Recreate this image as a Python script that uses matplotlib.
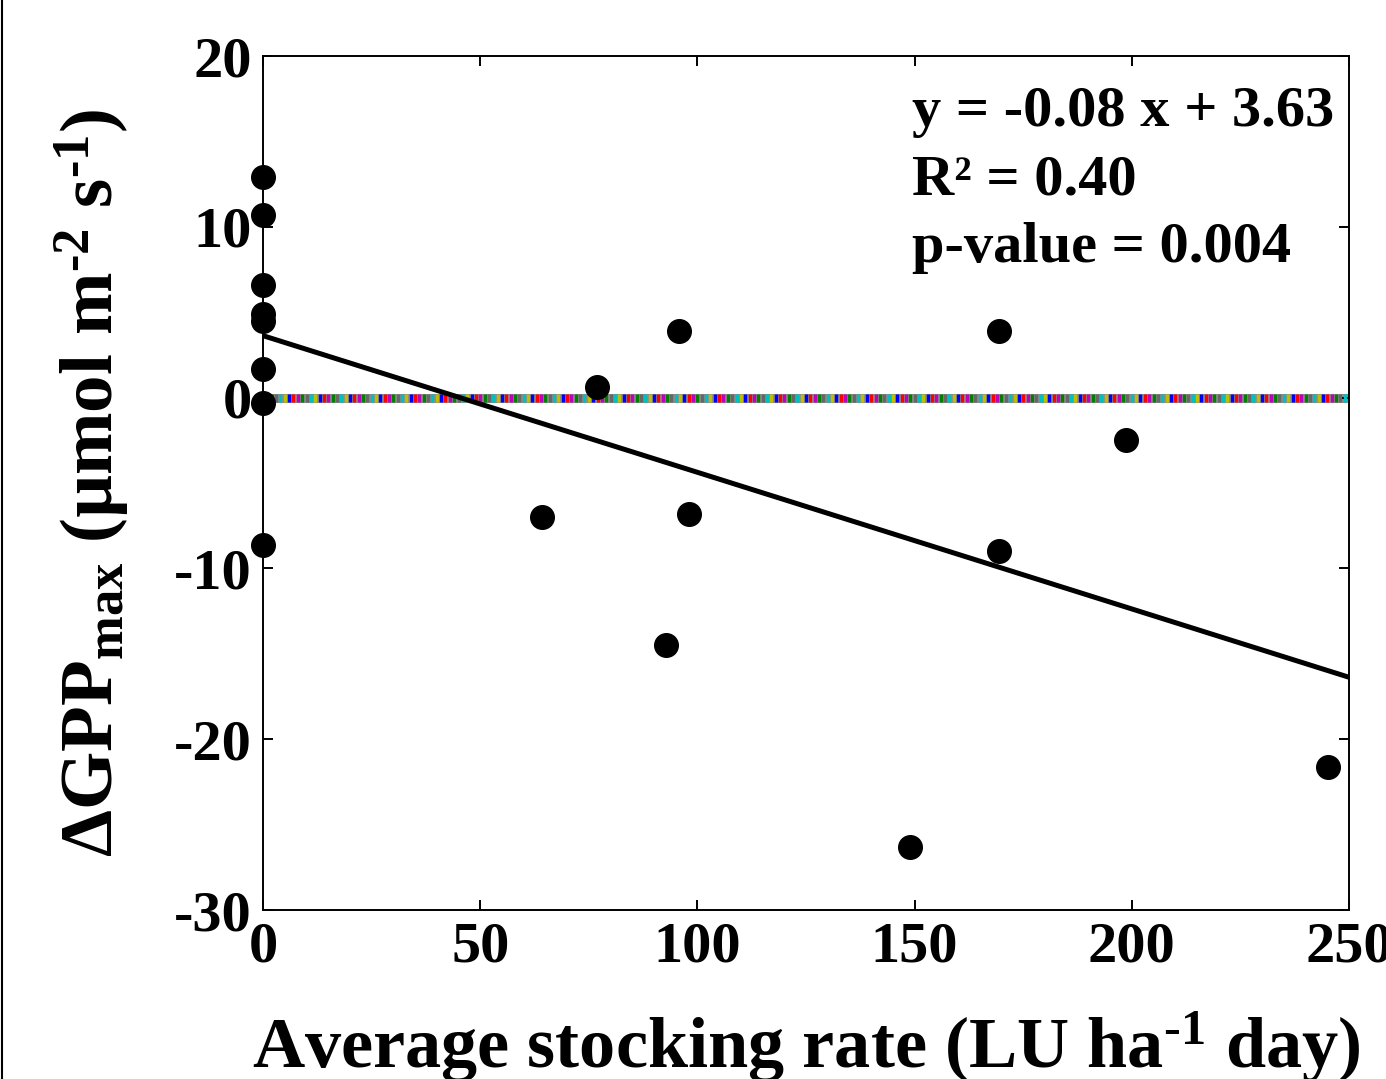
import numpy as np
import matplotlib
matplotlib.use("Agg")
import matplotlib.pyplot as plt
from matplotlib.lines import Line2D
from matplotlib.ticker import FuncFormatter

plt.rcParams['font.family'] = ['Liberation Serif', 'DejaVu Serif']
plt.rcParams['font.weight'] = 'bold'
plt.rcParams['mathtext.fontset'] = 'custom'
plt.rcParams['mathtext.rm'] = 'Liberation Serif:bold'
plt.rcParams['mathtext.it'] = 'Liberation Serif:bold'
plt.rcParams['mathtext.bf'] = 'Liberation Serif:bold'

# stocking rate (LU ha-1 day) vs change in GPPmax
stocking = [0, 0, 0, 0, 0, 0, 0, 0,
            64.2, 76.9, 92.8, 95.8, 98.1, 148.9, 169.4, 169.4, 198.7, 245.2]
dgpp = [12.9, 10.7, 6.6, 4.9, 4.5, 1.7, -0.3, -8.6,
        -7.0, 0.6, -14.5, 3.9, -6.8, -26.3, 3.9, -9.0, -2.5, -21.6]

slope = -0.08
intercept = 3.63
fit_x = [0, 250]
stats_lines = ['y = -0.08 x + 3.63', 'R² = 0.40', 'p-value = 0.004']

xticks = [0, 50, 100, 150, 200, 250]
yticks = [-30, -20, -10, 0, 10, 20]

# colour cycle of the zero reference line (one short dash per unit of x)
zero_x = np.arange(0, 251)
zero_colors = ['r', 'm', 'g', '0.4', 'c', 'y', 'b']

fig = plt.figure(figsize=(13.86, 10.79), dpi=100)
ax = fig.add_axes([0.1898, 0.1566, 0.7835, 0.7914])

ax.axhline(0, color='0.55', lw=6.5, zorder=1)
ax.scatter(zero_x, np.zeros(len(zero_x)), marker='|', s=36, linewidths=2.4,
           c=[zero_colors[i % len(zero_colors)] for i in range(len(zero_x))],
           zorder=2, clip_on=True)

fit_y = [intercept + slope * v for v in fit_x]
ax.plot(fit_x, fit_y, color='k', lw=3.6, zorder=3)
ax.plot(stocking, dgpp, 'o', color='k', markersize=17, zorder=4, clip_on=False)

ax.set_xlim(0, 250)
ax.set_ylim(-30, 20)
ax.set_xticks(xticks)
ax.set_yticks(yticks)
ax.yaxis.set_major_formatter(FuncFormatter(lambda v, p: '%d' % v))
ax.tick_params(direction='in', length=7, width=1.4, top=True, right=True,
               labelsize=42, pad=8)
for sp in ax.spines.values():
    sp.set_linewidth(1.4)

ax.set_xlabel(r'Average stocking rate (LU ha$^{\text{-}1}$ day)', fontsize=52,
              fontweight='bold', labelpad=26)
ax.set_ylabel(r'$\Delta$GPP$_{\mathrm{max}}$ (µmol m$^{\text{-}2}$ s$^{\text{-}1}$)',
              fontsize=54, fontweight='bold', labelpad=31)

for i, s in enumerate(stats_lines):
    ax.text(0.598, 0.934 - i * 0.0795, s, transform=ax.transAxes,
            fontsize=42, fontweight='bold', va='center', ha='left')

fig.add_artist(Line2D([0.0015, 0.0015], [0, 1], color='k', lw=1.5,
                      transform=fig.transFigure))

fig.savefig('out.png', dpi=100)
